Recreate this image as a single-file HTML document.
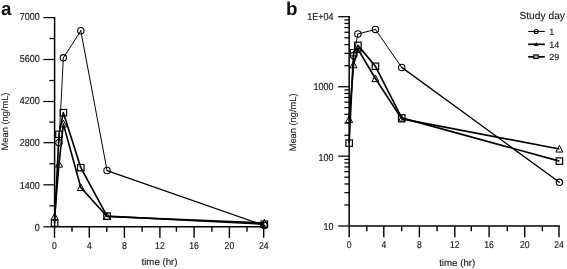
<!DOCTYPE html>
<html><head><meta charset="utf-8"><title>PK profiles</title>
<style>
html,body{margin:0;padding:0;background:#fff;}
body{width:567px;height:269px;overflow:hidden;}
#wrap{width:567px;height:269px;filter:grayscale(1);}
svg{display:block;font-family:"Liberation Sans",sans-serif;}
text{text-rendering:geometricPrecision;}
</style></head><body>
<div id="wrap"><svg width="567" height="269" viewBox="0 0 567 269">
<rect width="567" height="269" fill="#fff"/>
<line x1="54.60" y1="16.98" x2="54.60" y2="227.55" stroke="#000" stroke-width="1.5"/>
<line x1="43.40" y1="226.80" x2="54.00" y2="226.80" stroke="#000" stroke-width="1.25"/>
<line x1="54.00" y1="226.80" x2="264.40" y2="226.80" stroke="#000" stroke-width="1.5"/>
<text transform="translate(39.70,230.75) scale(0.89,1)" font-size="10.1" text-anchor="end" fill="#1e1e1e" stroke="#1e1e1e" stroke-width="0.2">0</text>
<line x1="49.40" y1="205.80" x2="54.60" y2="205.80" stroke="#000" stroke-width="1.25"/>
<line x1="43.40" y1="184.80" x2="54.60" y2="184.80" stroke="#000" stroke-width="1.25"/>
<text transform="translate(39.70,188.95) scale(0.89,1)" font-size="10.1" text-anchor="end" fill="#1e1e1e" stroke="#1e1e1e" stroke-width="0.2">1400</text>
<line x1="49.40" y1="163.75" x2="54.60" y2="163.75" stroke="#000" stroke-width="1.25"/>
<line x1="43.40" y1="142.70" x2="54.60" y2="142.70" stroke="#000" stroke-width="1.25"/>
<text transform="translate(39.70,145.60) scale(0.89,1)" font-size="10.1" text-anchor="end" fill="#1e1e1e" stroke="#1e1e1e" stroke-width="0.2">2800</text>
<line x1="49.40" y1="122.10" x2="54.60" y2="122.10" stroke="#000" stroke-width="1.25"/>
<line x1="43.40" y1="101.50" x2="54.60" y2="101.50" stroke="#000" stroke-width="1.25"/>
<text transform="translate(39.70,103.50) scale(0.89,1)" font-size="10.1" text-anchor="end" fill="#1e1e1e" stroke="#1e1e1e" stroke-width="0.2">4200</text>
<line x1="49.40" y1="80.50" x2="54.60" y2="80.50" stroke="#000" stroke-width="1.25"/>
<line x1="43.40" y1="59.50" x2="54.60" y2="59.50" stroke="#000" stroke-width="1.25"/>
<text transform="translate(39.70,61.50) scale(0.89,1)" font-size="10.1" text-anchor="end" fill="#1e1e1e" stroke="#1e1e1e" stroke-width="0.2">5600</text>
<line x1="49.40" y1="38.55" x2="54.60" y2="38.55" stroke="#000" stroke-width="1.25"/>
<line x1="43.40" y1="17.60" x2="54.60" y2="17.60" stroke="#000" stroke-width="1.25"/>
<text transform="translate(39.70,19.60) scale(0.89,1)" font-size="10.1" text-anchor="end" fill="#1e1e1e" stroke="#1e1e1e" stroke-width="0.2">7000</text>
<line x1="54.50" y1="226.80" x2="54.50" y2="237.80" stroke="#000" stroke-width="1.4"/>
<text transform="translate(54.50,248.50) scale(0.86,1)" font-size="10.0" text-anchor="middle" fill="#1e1e1e" stroke="#1e1e1e" stroke-width="0.2">0</text>
<line x1="72.00" y1="226.80" x2="72.00" y2="231.80" stroke="#000" stroke-width="1.4"/>
<line x1="89.30" y1="226.80" x2="89.30" y2="237.80" stroke="#000" stroke-width="1.4"/>
<text transform="translate(89.30,248.50) scale(0.86,1)" font-size="10.0" text-anchor="middle" fill="#1e1e1e" stroke="#1e1e1e" stroke-width="0.2">4</text>
<line x1="106.80" y1="226.80" x2="106.80" y2="231.80" stroke="#000" stroke-width="1.4"/>
<line x1="124.40" y1="226.80" x2="124.40" y2="237.80" stroke="#000" stroke-width="1.4"/>
<text transform="translate(124.40,248.50) scale(0.86,1)" font-size="10.0" text-anchor="middle" fill="#1e1e1e" stroke="#1e1e1e" stroke-width="0.2">8</text>
<line x1="142.10" y1="226.80" x2="142.10" y2="231.80" stroke="#000" stroke-width="1.4"/>
<line x1="159.90" y1="226.80" x2="159.90" y2="237.80" stroke="#000" stroke-width="1.4"/>
<text transform="translate(159.90,248.50) scale(0.86,1)" font-size="10.0" text-anchor="middle" fill="#1e1e1e" stroke="#1e1e1e" stroke-width="0.2">12</text>
<line x1="176.40" y1="226.80" x2="176.40" y2="231.80" stroke="#000" stroke-width="1.4"/>
<line x1="194.10" y1="226.80" x2="194.10" y2="237.80" stroke="#000" stroke-width="1.4"/>
<text transform="translate(194.10,248.50) scale(0.86,1)" font-size="10.0" text-anchor="middle" fill="#1e1e1e" stroke="#1e1e1e" stroke-width="0.2">16</text>
<line x1="211.90" y1="226.80" x2="211.90" y2="231.80" stroke="#000" stroke-width="1.4"/>
<line x1="229.40" y1="226.80" x2="229.40" y2="237.80" stroke="#000" stroke-width="1.4"/>
<text transform="translate(229.40,248.50) scale(0.86,1)" font-size="10.0" text-anchor="middle" fill="#1e1e1e" stroke="#1e1e1e" stroke-width="0.2">20</text>
<line x1="247.00" y1="226.80" x2="247.00" y2="231.80" stroke="#000" stroke-width="1.4"/>
<line x1="263.70" y1="226.80" x2="263.70" y2="237.80" stroke="#000" stroke-width="1.4"/>
<text transform="translate(263.70,248.50) scale(0.86,1)" font-size="10.0" text-anchor="middle" fill="#1e1e1e" stroke="#1e1e1e" stroke-width="0.2">24</text>
<text x="159.50" y="264.80" font-size="9.7" text-anchor="middle" font-weight="normal" fill="#1e1e1e" stroke="#1e1e1e" stroke-width="0.15">time (hr)</text>
<text transform="translate(7.6,121.5) rotate(-90)" font-size="9.3" text-anchor="middle" fill="#1e1e1e" stroke="#1e1e1e" stroke-width="0.15">Mean (ng/mL)</text>
<line x1="58.97" y1="142.70" x2="63.34" y2="57.85" stroke="#000" stroke-width="0.95" stroke-linecap="round"/>
<line x1="63.34" y1="57.85" x2="80.82" y2="30.77" stroke="#000" stroke-width="1.0" stroke-linecap="round"/>
<line x1="80.82" y1="30.77" x2="107.04" y2="170.52" stroke="#000" stroke-width="1.0" stroke-linecap="round"/>
<line x1="107.04" y1="170.52" x2="264.36" y2="225.51" stroke="#000" stroke-width="1.3" stroke-linecap="round"/>
<polyline points="54.60,216.66 58.97,164.05 63.34,123.87 80.82,187.50 107.04,216.45 264.36,222.96" fill="none" stroke="#000" stroke-width="1.65" stroke-linejoin="round"/>
<polyline points="54.60,223.14 58.97,134.31 63.34,112.68 80.82,167.66 107.04,216.06 264.36,224.22" fill="none" stroke="#000" stroke-width="1.65" stroke-linejoin="round"/>
<circle cx="58.97" cy="142.70" r="3.2" fill="none" stroke="#000" stroke-width="1.1"/>
<circle cx="63.34" cy="57.85" r="3.2" fill="none" stroke="#000" stroke-width="1.1"/>
<circle cx="80.82" cy="30.77" r="3.2" fill="none" stroke="#000" stroke-width="1.1"/>
<circle cx="107.04" cy="170.52" r="3.2" fill="none" stroke="#000" stroke-width="1.1"/>
<circle cx="264.36" cy="225.51" r="3.2" fill="none" stroke="#000" stroke-width="1.1"/>
<path d="M54.60 213.06 L58.10 219.76 L51.10 219.76 Z" fill="none" stroke="#000" stroke-width="1"/>
<path d="M58.97 160.45 L62.47 167.15 L55.47 167.15 Z" fill="none" stroke="#000" stroke-width="1"/>
<path d="M63.34 120.27 L66.84 126.97 L59.84 126.97 Z" fill="none" stroke="#000" stroke-width="1"/>
<path d="M80.82 183.90 L84.32 190.60 L77.32 190.60 Z" fill="none" stroke="#000" stroke-width="1"/>
<path d="M107.04 212.85 L110.54 219.55 L103.54 219.55 Z" fill="none" stroke="#000" stroke-width="1"/>
<path d="M264.36 219.36 L267.86 226.06 L260.86 226.06 Z" fill="none" stroke="#000" stroke-width="1"/>
<rect x="51.35" y="219.94" width="6.5" height="6.4" fill="none" stroke="#000" stroke-width="1.2"/>
<rect x="55.72" y="131.11" width="6.5" height="6.4" fill="none" stroke="#000" stroke-width="1.2"/>
<rect x="60.09" y="109.48" width="6.5" height="6.4" fill="none" stroke="#000" stroke-width="1.2"/>
<rect x="77.57" y="164.46" width="6.5" height="6.4" fill="none" stroke="#000" stroke-width="1.2"/>
<rect x="103.79" y="212.86" width="6.5" height="6.4" fill="none" stroke="#000" stroke-width="1.2"/>
<rect x="261.11" y="221.02" width="6.5" height="6.4" fill="none" stroke="#000" stroke-width="1.2"/>
<text x="1.00" y="14.60" font-size="18.8" text-anchor="start" font-weight="bold" fill="#111" stroke="#111" stroke-width="0">a</text>
<line x1="349.15" y1="16.07" x2="349.15" y2="226.75" stroke="#000" stroke-width="1.5"/>
<line x1="338.20" y1="226.00" x2="348.60" y2="226.00" stroke="#000" stroke-width="1.25"/>
<line x1="348.60" y1="226.00" x2="559.70" y2="226.00" stroke="#000" stroke-width="1.5"/>
<text transform="translate(333.50,230.30) scale(0.89,1)" font-size="10.1" text-anchor="end" fill="#1e1e1e" stroke="#1e1e1e" stroke-width="0.2">10</text>
<line x1="344.40" y1="204.97" x2="349.15" y2="204.97" stroke="#000" stroke-width="1.25"/>
<line x1="344.40" y1="192.67" x2="349.15" y2="192.67" stroke="#000" stroke-width="1.25"/>
<line x1="344.40" y1="183.95" x2="349.15" y2="183.95" stroke="#000" stroke-width="1.25"/>
<line x1="344.40" y1="177.18" x2="349.15" y2="177.18" stroke="#000" stroke-width="1.25"/>
<line x1="344.40" y1="171.65" x2="349.15" y2="171.65" stroke="#000" stroke-width="1.25"/>
<line x1="344.40" y1="166.97" x2="349.15" y2="166.97" stroke="#000" stroke-width="1.25"/>
<line x1="344.40" y1="162.92" x2="349.15" y2="162.92" stroke="#000" stroke-width="1.25"/>
<line x1="344.40" y1="159.35" x2="349.15" y2="159.35" stroke="#000" stroke-width="1.25"/>
<line x1="338.20" y1="156.15" x2="349.15" y2="156.15" stroke="#000" stroke-width="1.25"/>
<text transform="translate(333.50,160.50) scale(0.89,1)" font-size="10.1" text-anchor="end" fill="#1e1e1e" stroke="#1e1e1e" stroke-width="0.2">100</text>
<line x1="344.40" y1="135.26" x2="349.15" y2="135.26" stroke="#000" stroke-width="1.25"/>
<line x1="344.40" y1="123.04" x2="349.15" y2="123.04" stroke="#000" stroke-width="1.25"/>
<line x1="344.40" y1="114.37" x2="349.15" y2="114.37" stroke="#000" stroke-width="1.25"/>
<line x1="344.40" y1="107.64" x2="349.15" y2="107.64" stroke="#000" stroke-width="1.25"/>
<line x1="344.40" y1="102.15" x2="349.15" y2="102.15" stroke="#000" stroke-width="1.25"/>
<line x1="344.40" y1="97.50" x2="349.15" y2="97.50" stroke="#000" stroke-width="1.25"/>
<line x1="344.40" y1="93.48" x2="349.15" y2="93.48" stroke="#000" stroke-width="1.25"/>
<line x1="344.40" y1="89.93" x2="349.15" y2="89.93" stroke="#000" stroke-width="1.25"/>
<line x1="338.20" y1="86.75" x2="349.15" y2="86.75" stroke="#000" stroke-width="1.25"/>
<text transform="translate(333.50,89.50) scale(0.89,1)" font-size="10.1" text-anchor="end" fill="#1e1e1e" stroke="#1e1e1e" stroke-width="0.2">1000</text>
<line x1="344.40" y1="65.66" x2="349.15" y2="65.66" stroke="#000" stroke-width="1.25"/>
<line x1="344.40" y1="53.33" x2="349.15" y2="53.33" stroke="#000" stroke-width="1.25"/>
<line x1="344.40" y1="44.58" x2="349.15" y2="44.58" stroke="#000" stroke-width="1.25"/>
<line x1="344.40" y1="37.79" x2="349.15" y2="37.79" stroke="#000" stroke-width="1.25"/>
<line x1="344.40" y1="32.24" x2="349.15" y2="32.24" stroke="#000" stroke-width="1.25"/>
<line x1="344.40" y1="27.55" x2="349.15" y2="27.55" stroke="#000" stroke-width="1.25"/>
<line x1="344.40" y1="23.49" x2="349.15" y2="23.49" stroke="#000" stroke-width="1.25"/>
<line x1="344.40" y1="19.91" x2="349.15" y2="19.91" stroke="#000" stroke-width="1.25"/>
<line x1="338.20" y1="16.70" x2="349.15" y2="16.70" stroke="#000" stroke-width="1.25"/>
<text transform="translate(333.50,19.50) scale(0.89,1)" font-size="10.1" text-anchor="end" fill="#1e1e1e" stroke="#1e1e1e" stroke-width="0.2">1E+04</text>
<line x1="349.20" y1="226.00" x2="349.20" y2="237.30" stroke="#000" stroke-width="1.4"/>
<text transform="translate(349.20,248.20) scale(0.86,1)" font-size="10.0" text-anchor="middle" fill="#1e1e1e" stroke="#1e1e1e" stroke-width="0.2">0</text>
<line x1="366.80" y1="226.00" x2="366.80" y2="231.30" stroke="#000" stroke-width="1.4"/>
<line x1="383.80" y1="226.00" x2="383.80" y2="237.30" stroke="#000" stroke-width="1.4"/>
<text transform="translate(383.80,248.20) scale(0.86,1)" font-size="10.0" text-anchor="middle" fill="#1e1e1e" stroke="#1e1e1e" stroke-width="0.2">4</text>
<line x1="401.70" y1="226.00" x2="401.70" y2="231.30" stroke="#000" stroke-width="1.4"/>
<line x1="419.40" y1="226.00" x2="419.40" y2="237.30" stroke="#000" stroke-width="1.4"/>
<text transform="translate(419.40,248.20) scale(0.86,1)" font-size="10.0" text-anchor="middle" fill="#1e1e1e" stroke="#1e1e1e" stroke-width="0.2">8</text>
<line x1="437.10" y1="226.00" x2="437.10" y2="231.30" stroke="#000" stroke-width="1.4"/>
<line x1="454.80" y1="226.00" x2="454.80" y2="237.30" stroke="#000" stroke-width="1.4"/>
<text transform="translate(454.80,248.20) scale(0.86,1)" font-size="10.0" text-anchor="middle" fill="#1e1e1e" stroke="#1e1e1e" stroke-width="0.2">12</text>
<line x1="471.30" y1="226.00" x2="471.30" y2="231.30" stroke="#000" stroke-width="1.4"/>
<line x1="489.10" y1="226.00" x2="489.10" y2="237.30" stroke="#000" stroke-width="1.4"/>
<text transform="translate(489.10,248.20) scale(0.86,1)" font-size="10.0" text-anchor="middle" fill="#1e1e1e" stroke="#1e1e1e" stroke-width="0.2">16</text>
<line x1="507.30" y1="226.00" x2="507.30" y2="231.30" stroke="#000" stroke-width="1.4"/>
<line x1="524.70" y1="226.00" x2="524.70" y2="237.30" stroke="#000" stroke-width="1.4"/>
<text transform="translate(524.70,248.20) scale(0.86,1)" font-size="10.0" text-anchor="middle" fill="#1e1e1e" stroke="#1e1e1e" stroke-width="0.2">20</text>
<line x1="542.40" y1="226.00" x2="542.40" y2="231.30" stroke="#000" stroke-width="1.4"/>
<line x1="559.00" y1="226.00" x2="559.00" y2="237.30" stroke="#000" stroke-width="1.4"/>
<text transform="translate(559.00,248.20) scale(0.86,1)" font-size="10.0" text-anchor="middle" fill="#1e1e1e" stroke="#1e1e1e" stroke-width="0.2">24</text>
<text x="457.20" y="265.80" font-size="9.7" text-anchor="middle" font-weight="normal" fill="#1e1e1e" stroke="#1e1e1e" stroke-width="0.15">time (hr)</text>
<text transform="translate(296.2,122.4) rotate(-90)" font-size="9.3" text-anchor="middle" fill="#1e1e1e" stroke="#1e1e1e" stroke-width="0.15">Mean (ng/mL)</text>
<line x1="353.53" y1="55.43" x2="357.91" y2="33.97" stroke="#000" stroke-width="0.95" stroke-linecap="round"/>
<line x1="357.91" y1="33.97" x2="375.43" y2="29.44" stroke="#000" stroke-width="1.0" stroke-linecap="round"/>
<line x1="375.43" y1="29.44" x2="401.71" y2="67.38" stroke="#000" stroke-width="1.0" stroke-linecap="round"/>
<line x1="401.71" y1="67.38" x2="559.39" y2="182.32" stroke="#000" stroke-width="1.3" stroke-linecap="round"/>
<polyline points="349.15,119.44 353.53,64.76 357.91,49.16 375.43,78.54 401.71,118.91 559.39,148.95" fill="none" stroke="#000" stroke-width="1.65" stroke-linejoin="round"/>
<polyline points="349.15,143.14 353.53,52.73 357.91,45.35 375.43,66.28 401.71,117.88 559.39,161.08" fill="none" stroke="#000" stroke-width="1.65" stroke-linejoin="round"/>
<circle cx="353.53" cy="55.43" r="3.2" fill="none" stroke="#000" stroke-width="1.1"/>
<circle cx="357.91" cy="33.97" r="3.2" fill="none" stroke="#000" stroke-width="1.1"/>
<circle cx="375.43" cy="29.44" r="3.2" fill="none" stroke="#000" stroke-width="1.1"/>
<circle cx="401.71" cy="67.38" r="3.2" fill="none" stroke="#000" stroke-width="1.1"/>
<circle cx="559.39" cy="182.32" r="3.2" fill="none" stroke="#000" stroke-width="1.1"/>
<path d="M349.15 115.84 L352.65 122.54 L345.65 122.54 Z" fill="none" stroke="#000" stroke-width="1"/>
<path d="M353.53 61.16 L357.03 67.86 L350.03 67.86 Z" fill="none" stroke="#000" stroke-width="1"/>
<path d="M357.91 45.56 L361.41 52.26 L354.41 52.26 Z" fill="none" stroke="#000" stroke-width="1"/>
<path d="M375.43 74.94 L378.93 81.64 L371.93 81.64 Z" fill="none" stroke="#000" stroke-width="1"/>
<path d="M401.71 115.31 L405.21 122.01 L398.21 122.01 Z" fill="none" stroke="#000" stroke-width="1"/>
<path d="M559.39 145.35 L562.89 152.05 L555.89 152.05 Z" fill="none" stroke="#000" stroke-width="1"/>
<rect x="345.90" y="139.94" width="6.5" height="6.4" fill="none" stroke="#000" stroke-width="1.2"/>
<rect x="350.28" y="49.53" width="6.5" height="6.4" fill="none" stroke="#000" stroke-width="1.2"/>
<rect x="354.66" y="42.15" width="6.5" height="6.4" fill="none" stroke="#000" stroke-width="1.2"/>
<rect x="372.18" y="63.08" width="6.5" height="6.4" fill="none" stroke="#000" stroke-width="1.2"/>
<rect x="398.46" y="114.68" width="6.5" height="6.4" fill="none" stroke="#000" stroke-width="1.2"/>
<rect x="556.14" y="157.88" width="6.5" height="6.4" fill="none" stroke="#000" stroke-width="1.2"/>
<text x="285.90" y="14.55" font-size="18.8" text-anchor="start" font-weight="bold" fill="#111" stroke="#111" stroke-width="0">b</text>
<text x="519.40" y="18.60" font-size="10.25" text-anchor="start" font-weight="normal" fill="#1e1e1e" stroke="#1e1e1e" stroke-width="0.15">Study day</text>
<line x1="528.20" y1="31.45" x2="544.80" y2="31.45" stroke="#000" stroke-width="1.1"/>
<circle cx="536.2" cy="31.45" r="2.0" fill="none" stroke="#000" stroke-width="1.1"/>
<text x="549.20" y="34.60" font-size="9" text-anchor="start" font-weight="normal" fill="#1e1e1e" stroke="#1e1e1e" stroke-width="0.15">1</text>
<line x1="528.20" y1="44.30" x2="544.80" y2="44.30" stroke="#000" stroke-width="1.7"/>
<path d="M536.2 42.5 L537.9 45.7 L534.5 45.7 Z" fill="#000" stroke="#000" stroke-width="0.5"/>
<text x="549.20" y="47.50" font-size="9" text-anchor="start" font-weight="normal" fill="#1e1e1e" stroke="#1e1e1e" stroke-width="0.15">14</text>
<line x1="528.20" y1="56.80" x2="544.80" y2="56.80" stroke="#000" stroke-width="1.7"/>
<rect x="533.8" y="54.9" width="4.4" height="3.6" fill="#b5b5b5" stroke="#000" stroke-width="1.1"/>
<text x="549.20" y="60.30" font-size="9" text-anchor="start" font-weight="normal" fill="#1e1e1e" stroke="#1e1e1e" stroke-width="0.15">29</text>
</svg></div>
</body></html>
